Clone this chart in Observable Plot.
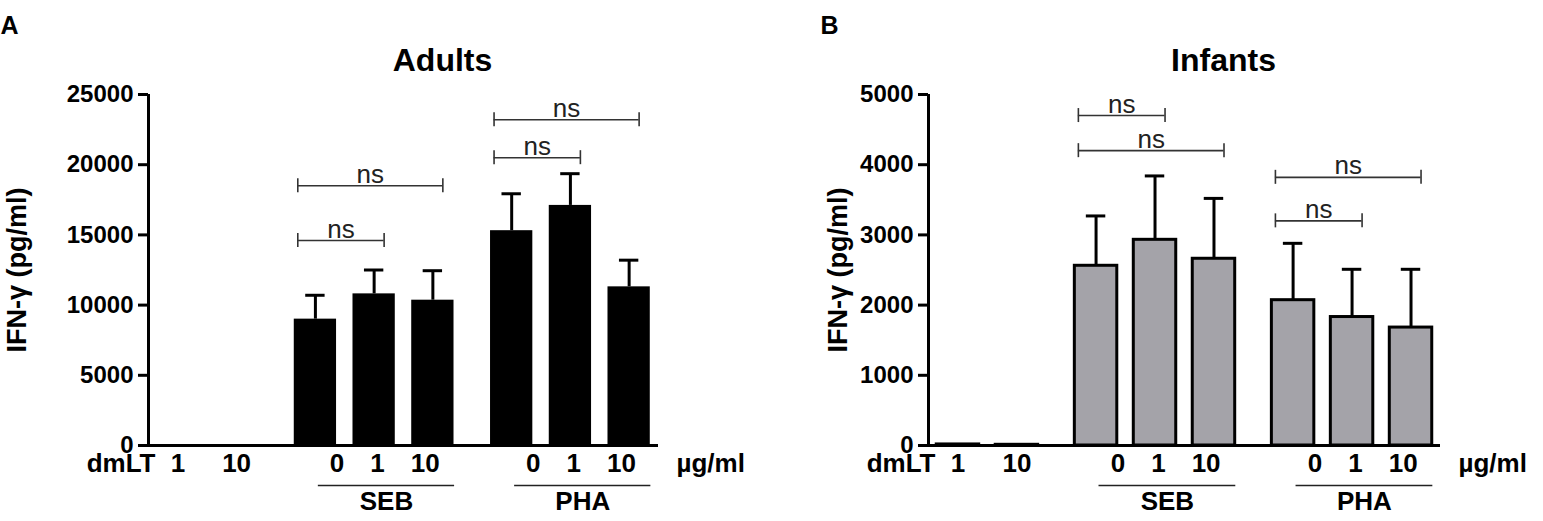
<!DOCTYPE html>
<html>
<head>
<meta charset="utf-8">
<script src="https://cdn.jsdelivr.net/npm/d3@7"></script>
<script src="https://cdn.jsdelivr.net/npm/@observablehq/plot@0.6"></script>
<style>
  html, body { margin: 0; padding: 0; background: #fff; }
  #wrap { display: flex; width: 1543px; height: 521px; }
</style>
</head>
<body>
<div id="wrap"></div>
<script>
// ---------- data ----------
const categories = ["dmLT 1", "dmLT 10", "SEB 0", "SEB 1", "SEB 10", "PHA 0", "PHA 1", "PHA 10"];
const groupOf    = ["dmLT", "dmLT", "SEB", "SEB", "SEB", "PHA", "PHA", "PHA"];
const doseLabels = ["1", "10", "0", "1", "10", "0", "1", "10"];
const stimGroups = ["SEB", "PHA"];

const adultMean = [0, 60, 9000, 10800, 10350, 15300, 17100, 11300];
const adultSD   = [0, 0, 1700, 1700, 2100, 2630, 2260, 1900];
const adultTicks = [0, 5000, 10000, 15000, 20000, 25000];
const adultBrackets = [
  {from: "SEB 0", to: "SEB 10", y: 18500},
  {from: "SEB 0", to: "SEB 1",  y: 14600},
  {from: "PHA 0", to: "PHA 10", y: 23200},
  {from: "PHA 0", to: "PHA 1",  y: 20500}
];

const infantMean = [15, 10, 2560, 2930, 2660, 2070, 1830, 1680];
const infantSD   = [0, 0, 710, 910, 860, 810, 680, 830];
const infantTicks = [0, 1000, 2000, 3000, 4000, 5000];
const infantBrackets = [
  {from: "SEB 0", to: "SEB 1",  y: 4700},
  {from: "SEB 0", to: "SEB 10", y: 4200},
  {from: "PHA 0", to: "PHA 10", y: 3820},
  {from: "PHA 0", to: "PHA 1",  y: 3200}
];

// ---------- layout helpers (slot units) ----------
const groupOrder = Array.from(new Set(groupOf));
const GAP = 0.342;
const pos = i => i + 0.5 + groupOrder.indexOf(groupOf[i]) * GAP;
const posOf = c => pos(categories.indexOf(c));
const XMAX = categories.length + (groupOrder.length - 1) * GAP;
const FONT = "'Liberation Sans', Arial, Helvetica, sans-serif";
const SP = "\u2002\u2002";
const ROW_DY = 26;

function panel({width, marginLeft, marginRight, means, sds, ticks, brackets, fill, stroke, title, letter, letterDx, yTitleDx}) {
  const rows = categories.map((c, i) => ({c, i, x: pos(i), mean: means[i], sd: sds[i], dose: doseLabels[i], g: groupOf[i]}));
  const errRows = rows.filter(d => d.sd > 0);
  const dmltRows = rows.filter(d => d.g === "dmLT");
  const ymax = ticks[ticks.length - 1];
  const groups = stimGroups.map(g => {
    const idx = categories.map((c, i) => i).filter(i => groupOf[i] === g);
    const a = pos(idx[0]), b = pos(idx[idx.length - 1]);
    return {g, a, b, mid: (a + b) / 2, doses: idx.map(i => doseLabels[i]).join(SP)};
  });
  const bx1 = d => posOf(d.from) - 0.3;
  const bx2 = d => posOf(d.to) + 0.17;
  return Plot.plot({
    width, height: 521,
    marginLeft, marginRight, marginTop: 94, marginBottom: 76,
    style: {fontFamily: FONT, fontWeight: "bold", color: "#000", background: "#fff", overflow: "visible"},
    x: {domain: [0, XMAX], axis: null},
    y: {domain: [0, ymax], axis: null},
    marks: [
      // bars
      Plot.rect(rows, {x1: d => d.x - 0.36, x2: d => d.x + 0.36, y1: 0, y2: "mean",
        fill, stroke: stroke || "none", strokeWidth: 3}),
      // error bars
      Plot.ruleX(errRows, {x: "x", y1: "mean", y2: d => d.mean + d.sd, stroke: "#000", strokeWidth: 3}),
      Plot.ruleY(errRows, {x1: d => d.x - 0.165, x2: d => d.x + 0.165, y: d => d.mean + d.sd, stroke: "#000", strokeWidth: 3}),
      // axes
      Plot.ruleX([0], {stroke: "#000", strokeWidth: 3}),
      Plot.ruleY([0], {stroke: "#000", strokeWidth: 3}),
      Plot.axisY({ticks, tickSize: 10, tickPadding: 5, fontSize: 24, strokeWidth: 3,
        tickFormat: d => String(d), fill: "#000", stroke: "#000"}),
      // x labels
      Plot.text(dmltRows, {x: "x", text: "dose", frameAnchor: "bottom", dy: ROW_DY, fontSize: 26, fill: "#000"}),
      Plot.text(["dmLT"], {frameAnchor: "bottom-left", textAnchor: "end", dx: 7, dy: ROW_DY, fontSize: 26, fill: "#000"}),
      Plot.text(groups, {x: d => d.mid + 0.18, text: "doses", frameAnchor: "bottom", dy: ROW_DY, fontSize: 26, fill: "#000"}),
      Plot.text(["\u00b5g/ml"], {frameAnchor: "bottom-right", textAnchor: "start", dx: 18, dy: ROW_DY, fontSize: 26, fill: "#000"}),
      // group underline + label
      Plot.ruleY(groups, {x1: d => d.a + 0.05, x2: d => d.b + 0.37, y: 0, dy: 40, stroke: "#222", strokeWidth: 1.6}),
      Plot.text(groups, {x: d => (d.a + 0.05 + d.b + 0.37) / 2, text: "g", frameAnchor: "bottom", dy: 64, fontSize: 26, fill: "#000"}),
      // significance brackets
      Plot.ruleY(brackets, {x1: bx1, x2: bx2, y: "y", stroke: "#333", strokeWidth: 1.6}),
      Plot.ruleX(brackets, {x: bx1, y1: "y", y2: "y", insetTop: -7, insetBottom: -7, stroke: "#333", strokeWidth: 1.6}),
      Plot.ruleX(brackets, {x: bx2, y1: "y", y2: "y", insetTop: -7, insetBottom: -7, stroke: "#333", strokeWidth: 1.6}),
      Plot.text(brackets, {x: d => (bx1(d) + bx2(d)) / 2, y: "y", text: () => "ns",
        lineAnchor: "bottom", dy: -3, fontSize: 26, fontWeight: "normal", fill: "#222"}),
      // titles
      Plot.text([title], {frameAnchor: "top", dx: 39, dy: -46, fontSize: 32, fill: "#000"}),
      Plot.text([letter], {frameAnchor: "top-left", textAnchor: "start", dx: letterDx, dy: -78, fontSize: 25, fill: "#000"}),
      Plot.text(["IFN-\u03b3 (pg/ml)"], {frameAnchor: "left", textAnchor: "middle", rotate: -90, dx: yTitleDx, fontSize: 27, fill: "#000"})
    ]
  });
}

const wrap = document.getElementById("wrap");
wrap.appendChild(panel({
  width: 771, marginLeft: 148, marginRight: 113,
  means: adultMean, sds: adultSD, ticks: adultTicks, brackets: adultBrackets,
  fill: "#000", stroke: null, title: "Adults", letter: "A", letterDx: -148, yTitleDx: -131
}));
wrap.appendChild(panel({
  width: 772, marginLeft: 157, marginRight: 103,
  means: infantMean, sds: infantSD, ticks: infantTicks, brackets: infantBrackets,
  fill: "#a4a3a9", stroke: "#000", title: "Infants", letter: "B", letterDx: -108, yTitleDx: -90
}));
</script>
</body>
</html>
